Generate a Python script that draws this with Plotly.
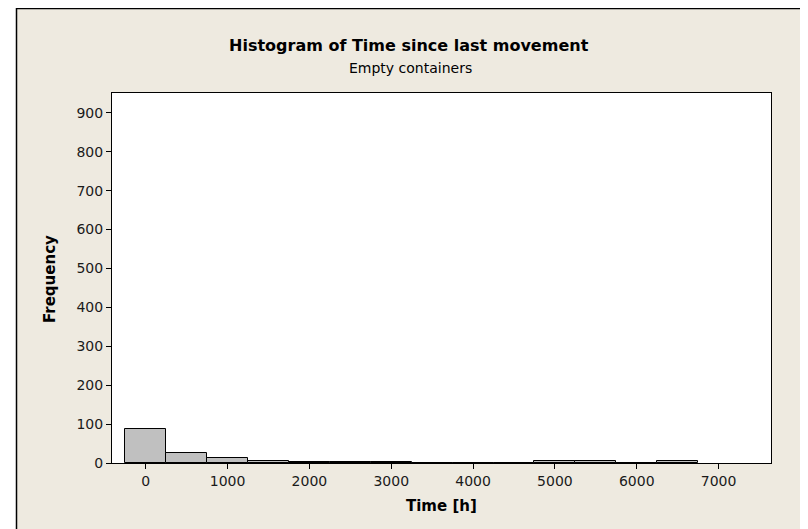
import plotly.graph_objects as go

bin_centers = [0, 500, 1000, 1500, 2000, 2500, 3000, 3500, 4000, 4500, 5000, 5500, 6000, 6500]
counts = [88, 25, 14, 4, 3, 3, 3, 1, 1, 1, 4, 4, 1, 4]
bin_width = 500
x_ticks = [0, 1000, 2000, 3000, 4000, 5000, 6000, 7000]
y_ticks = [0, 100, 200, 300, 400, 500, 600, 700, 800, 900]

title = "Histogram of Time since last movement"
subtitle = "Empty containers"
x_label = "Time [h]"
y_label = "Frequency"

# page has an 8px body margin; figure coordinates = page coordinates - 8
OFF = 8
W, H = 800, 521
L, R, T, B = 112 - OFF, 37, 93 - OFF, 66
pw, ph = W - L - R, H - T - B

def px(x):  # page pixel x -> paper
    return (x - OFF - L) / pw

def py(y):  # page pixel y -> paper
    return (H - B - (y - OFF)) / ph

FONT = "DejaVu Sans, Verdana, sans-serif"
BG = "#EEEAE0"

fig = go.Figure()
fig.add_trace(go.Bar(
    x=bin_centers, y=counts, width=[bin_width] * len(bin_centers),
    marker=dict(color="#C0C0C0", line=dict(color="black", width=1)),
    showlegend=False,
))

fig.update_layout(
    width=W, height=H,
    margin=dict(l=L, r=R, t=T, b=B, pad=0),
    paper_bgcolor=BG, plot_bgcolor="white",
    font=dict(family=FONT, size=13, color="#1a1a1a"),
    bargap=0,
    xaxis=dict(range=[-412, 7640], tickvals=x_ticks, ticks="outside", ticklen=5,
               tickcolor="black", showline=True, linecolor="black", mirror=True,
               showgrid=False, zeroline=False, tickfont=dict(size=14)),
    yaxis=dict(range=[0, 951], tickvals=y_ticks, ticks="outside", ticklen=5,
               tickcolor="black", showline=True, linecolor="black", mirror=True,
               showgrid=False, zeroline=False, tickfont=dict(size=14)),
    shapes=[
        dict(type="rect", xref="paper", yref="paper", x0=px(0), x1=px(16), y0=py(540), y1=py(0),
             fillcolor="white", line=dict(width=0), layer="above"),
        dict(type="line", xref="paper", yref="paper", x0=px(16.5), x1=px(16.5), y0=py(540), y1=py(8),
             line=dict(color="black", width=1.5)),
        dict(type="line", xref="paper", yref="paper", x0=px(16), x1=px(815), y0=py(8.5), y1=py(8.5),
             line=dict(color="black", width=1.5)),
        dict(type="line", xref="paper", yref="paper", x0=px(807.5), x1=px(807.5), y0=py(540), y1=py(8),
             line=dict(color="#aaaaaa", width=1)),
    ],
    annotations=[
        dict(text="<b>" + title + "</b>", xref="paper", yref="paper", x=px(409), y=py(46),
             showarrow=False, font=dict(size=16, color="black"), xanchor="center", yanchor="middle"),
        dict(text=subtitle, xref="paper", yref="paper", x=px(410), y=py(68),
             showarrow=False, font=dict(size=14, color="black"), xanchor="center", yanchor="middle"),
        dict(text="<b>" + x_label + "</b>", xref="paper", yref="paper", x=px(441.5), y=py(506),
             showarrow=False, font=dict(size=15, color="black"), xanchor="center", yanchor="middle"),
        dict(text="<b>" + y_label + "</b>", xref="paper", yref="paper", x=px(50), y=py(279),
             showarrow=False, font=dict(size=15, color="black"), xanchor="center", yanchor="middle",
             textangle=-90),
    ],
)

fig.write_html("out.html")
